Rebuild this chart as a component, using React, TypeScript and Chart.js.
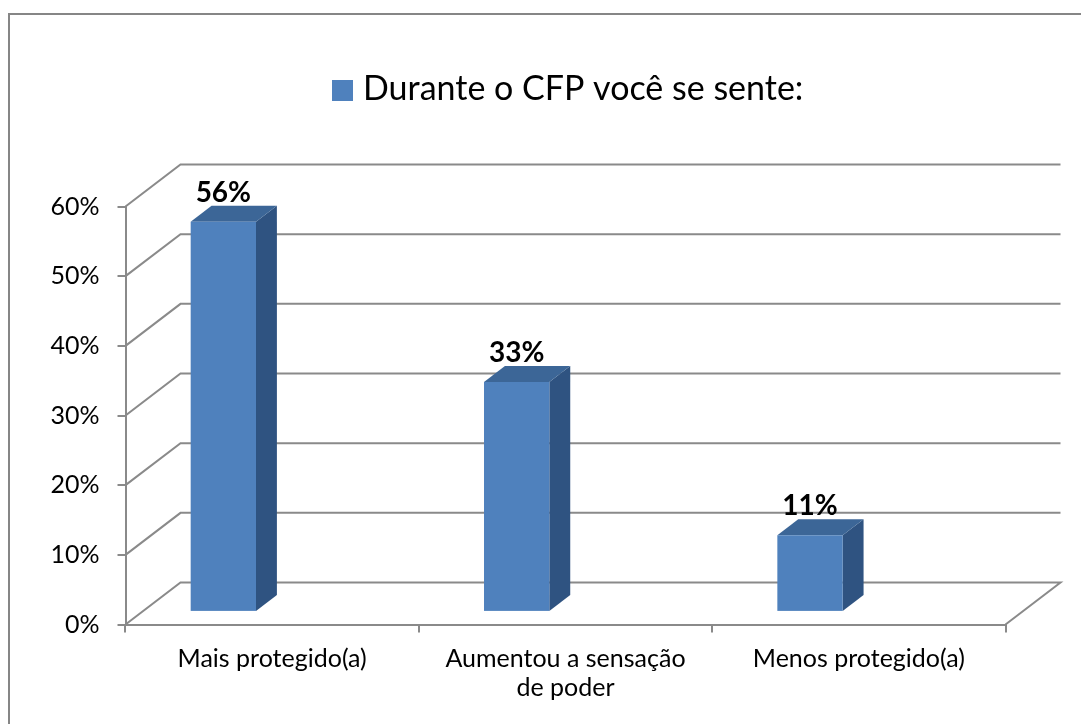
import { useEffect, useRef } from 'react';
import { Chart, registerables } from 'chart.js';

Chart.register(...registerables);

// ---- data ----
const categories: (string | string[])[] = [
  'Mais protegido(a)',
  ['Aumentou a sensação', 'de poder'],
  'Menos protegido(a)',
];
const seriesLabel = 'Durante o CFP você se sente:';
const seriesValues = [56, 33, 11];
const yMin = 0;
const yMax = 60;
const yStep = 10;

// ---- style ----
const FONT = 'Lato, Calibri, Carlito, sans-serif';
const GRID = '#8a8a8a';
const FRONT = '#4f81bd';
const TOP = '#3c6697';
const SIDE = '#2f5381';
const DEPTH = { dx: 55, dy: -42 };
const BAR_DEPTH = { start: 0.3, end: 0.68 };

const threeD = {
  id: 'threeD',
  beforeDraw(chart: any) {
    const { ctx, width, height } = chart;
    ctx.save();
    ctx.fillStyle = '#ffffff';
    ctx.fillRect(0, 0, width, height);
    ctx.strokeStyle = '#868686';
    ctx.lineWidth = 2;
    ctx.beginPath();
    ctx.moveTo(9, height);
    ctx.lineTo(9, 14);
    ctx.lineTo(width, 14);
    ctx.stroke();
    ctx.restore();
  },
  beforeDatasetsDraw(chart: any) {
    const { ctx, chartArea, scales } = chart;
    const { left, right } = chartArea;
    const y = scales.y;
    ctx.save();
    // back / side walls grid
    ctx.strokeStyle = GRID;
    ctx.lineWidth = 2;
    ctx.lineJoin = 'miter';
    y.ticks.forEach((t: any) => {
      const py = y.getPixelForValue(t.value);
      ctx.beginPath();
      ctx.moveTo(left, py);
      ctx.lineTo(left + DEPTH.dx, py + DEPTH.dy);
      ctx.lineTo(right + DEPTH.dx, py + DEPTH.dy);
      if (t.value === yMin) ctx.lineTo(right, py);
      ctx.stroke();
    });

    // 3D bars
    const meta = chart.getDatasetMeta(0);
    const ds = chart.data.datasets[0];
    const ox = DEPTH.dx * BAR_DEPTH.start;
    const oy = DEPTH.dy * BAR_DEPTH.start;
    const bdx = DEPTH.dx * (BAR_DEPTH.end - BAR_DEPTH.start);
    const bdy = DEPTH.dy * (BAR_DEPTH.end - BAR_DEPTH.start);
    meta.data.forEach((el: any, i: number) => {
      const p = el.getProps(['x', 'y', 'base', 'width'], true);
      const w = p.width;
      const fx = p.x - w / 2 - w + ox;
      const ty = p.y + oy;
      const by = p.base + oy;
      // side
      ctx.fillStyle = SIDE;
      ctx.beginPath();
      ctx.moveTo(fx + w, ty);
      ctx.lineTo(fx + w + bdx, ty + bdy);
      ctx.lineTo(fx + w + bdx, by + bdy);
      ctx.lineTo(fx + w, by);
      ctx.closePath();
      ctx.fill();
      // top
      ctx.fillStyle = TOP;
      ctx.beginPath();
      ctx.moveTo(fx, ty);
      ctx.lineTo(fx + bdx, ty + bdy);
      ctx.lineTo(fx + w + bdx, ty + bdy);
      ctx.lineTo(fx + w, ty);
      ctx.closePath();
      ctx.fill();
      // front
      ctx.fillStyle = FRONT;
      ctx.fillRect(fx, ty, w, by - ty);
      // data label
      ctx.fillStyle = '#000000';
      ctx.font = `bold 28px ${FONT}`;
      ctx.textAlign = 'center';
      ctx.textBaseline = 'alphabetic';
      ctx.fillText(`${ds.data[i]}%`, fx + w / 2, ty + bdy - 4);
    });
    ctx.restore();
    return false;
  },
  afterDraw(chart: any) {
    const { ctx } = chart;
    const ds = chart.data.datasets[0];
    ctx.save();
    ctx.fillStyle = ds.backgroundColor;
    ctx.fillRect(332, 80, 21, 21);
    ctx.fillStyle = '#000000';
    ctx.font = `34px ${FONT}`;
    ctx.textAlign = 'left';
    ctx.textBaseline = 'alphabetic';
    ctx.fillText(ds.label, 363, 99.5);
    ctx.restore();
  },
};

export default function App() {
  const ref = useRef<HTMLCanvasElement | null>(null);

  useEffect(() => {
    if (!ref.current) return;
    const chart = new Chart(ref.current, {
      type: 'bar',
      data: {
        labels: categories,
        datasets: [
          {
            label: seriesLabel,
            data: seriesValues,
            backgroundColor: FRONT,
            categoryPercentage: 1,
            barPercentage: 0.2227,
          },
        ],
      },
      options: {
        animation: false,
        responsive: false,
        events: [],
        layout: { padding: { top: 206.5, left: 0, right: 1081 - 1005.5, bottom: 0 } },
        plugins: {
          legend: { display: false },
          tooltip: { enabled: false },
        },
        scales: {
          x: {
            offset: true,
            grid: {
              offset: true,
              drawOnChartArea: false,
              drawTicks: true,
              tickLength: 8,
              color: GRID,
              lineWidth: 2,
            },
            border: { display: true, color: GRID, width: 2 },
            ticks: {
              color: '#000000',
              font: { family: FONT, size: 25, lineHeight: 1.16 },
              padding: 12,
              maxRotation: 0,
              autoSkip: false,
            },
            afterFit: (s: any) => {
              s.height = 724 - 624.5;
            },
          },
          y: {
            min: yMin,
            max: yMax,
            grid: {
              drawOnChartArea: false,
              drawTicks: true,
              tickLength: 8,
              color: GRID,
              lineWidth: 2,
            },
            border: { display: true, color: GRID, width: 2 },
            ticks: {
              stepSize: yStep,
              color: '#000000',
              font: { family: FONT, size: 25 },
              padding: 18,
              callback: (v: any) => `${v}%`,
            },
            afterFit: (s: any) => {
              s.width = 125.5;
            },
          },
        },
      },
      plugins: [threeD],
    });
    return () => chart.destroy();
  }, []);

  return (
    <div style={{ position: 'fixed', left: 0, top: 0, width: 1081, height: 724, background: '#fff' }}>
      <canvas ref={ref} width={1081} height={724} style={{ display: 'block' }} />
    </div>
  );
}
